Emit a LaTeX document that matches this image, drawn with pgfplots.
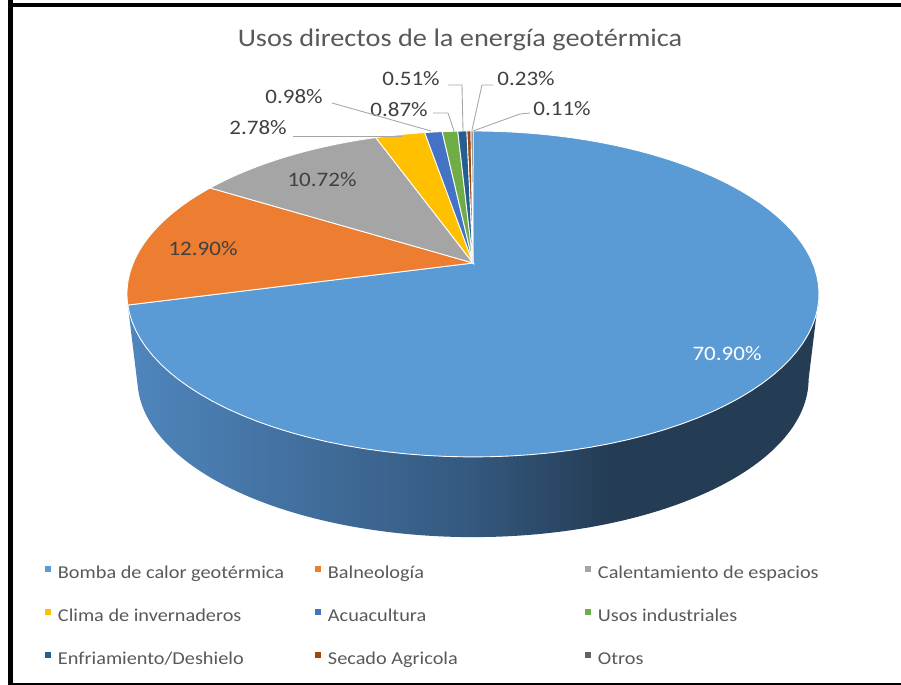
\documentclass[border=0pt]{standalone}
\usepackage{pgfplots}
\usepackage{pgfplotstable}
\pgfplotsset{compat=1.18}
\usepackage{fontspec}
\setmainfont{Carlito}[FakeStretch=1.12]

% slice colours (Office palette)
\definecolor{pie0}{HTML}{5B9BD5}
\definecolor{pie1}{HTML}{ED7D31}
\definecolor{pie2}{HTML}{A5A5A5}
\definecolor{pie3}{HTML}{FFC000}
\definecolor{pie4}{HTML}{4472C4}
\definecolor{pie5}{HTML}{70AD47}
\definecolor{pie6}{HTML}{255E91}
\definecolor{pie7}{HTML}{9E480E}
\definecolor{pie8}{HTML}{636363}
\definecolor{sL}{HTML}{4F86BD}
\definecolor{sM}{HTML}{34587E}
\definecolor{sR}{HTML}{243C54}
\definecolor{titlecol}{HTML}{595959}
\definecolor{lblcol}{HTML}{404040}
\definecolor{leadcol}{HTML}{A6A6A6}
\pgfdeclarehorizontalshading{sideshade}{100bp}{color(0bp)=(sL); color(25bp)=(sL); color(50bp)=(sM); color(60bp)=(sR); color(100bp)=(sR)}

\pgfplotstableread[col sep=comma]{
name,pct
Bomba de calor geotérmica,70.90
Balneología,12.90
Calentamiento de espacios,10.72
Clima de invernaderos,2.78
Acuacultura,0.98
Usos industriales,0.87
Enfriamiento/Deshielo,0.51
Secado Agricola,0.23
Otros,0.11
}\pietable

\begin{document}%
% cumulative angles, clockwise from 12 o'clock
\pgfplotstablegetrowsof{\pietable}%
\pgfmathtruncatemacro\lastrow{\pgfplotsretval-1}%
\xdef\runang{90}%
\foreach \i in {0,...,\lastrow}{%
  \pgfplotstablegetelem{\i}{pct}\of\pietable
  \pgfmathsetmacro\newang{\runang-3.6*\pgfplotsretval}%
  \expandafter\xdef\csname pieS\i\endcsname{\runang}%
  \expandafter\xdef\csname pieE\i\endcsname{\newang}%
  \pgfplotstablegetelem{\i}{name}\of\pietable
  \expandafter\xdef\csname pieN\i\endcsname{\pgfplotsretval}%
  \xdef\runang{\newang}%
}%
\begin{tikzpicture}[declare function={
  rimx(\t)=473+339.7*cos(\t)/(1+0.19*sin(\t));
  rimy(\t)=422+157.1*sin(\t)/(1+0.19*sin(\t));
  rimbx(\t)=473+0.97*339.7*cos(\t)/(1+0.19*sin(\t));
  rimby(\t)=336+0.97*157.1*sin(\t)/(1+0.19*sin(\t));
}]
\begin{axis}[
  width=18.02cm, height=13.7cm, scale only axis,
  xmin=0, xmax=901, ymin=0, ymax=685,
  hide axis,
  legend columns=3,
  legend cell align=left,
  legend image code/.code={\path[#1, draw=none] (0cm,0.05cm) rectangle (0.12cm,0.17cm);},
  legend style={at={(0.0499,0.1734)}, anchor=north west, draw=none, fill=none,
    inner sep=0pt, outer sep=0pt, row sep=0.51cm, column sep=0pt,
    font=\fontsize{10.3}{12}\selectfont, text=titlecol,
    nodes={inner sep=0pt, outer sep=0pt, text height=0.25cm, text depth=0.1cm},
    /tikz/every odd column/.append style={column sep=0.14cm}},
]
% picture area
\path (axis cs:0,0) rectangle (axis cs:901,685);
% side of the cylinder (front part of the big slice)
\shade[shading=sideshade]
  plot[variable=\t, domain=-165.24:-10.95, samples=120] (axis cs:{rimx(\t)},{rimy(\t)})
  -- plot[variable=\t, domain=-165.24:-10.95, samples=120] (axis cs:{rimbx(-176.19-\t)},{rimby(-176.19-\t)})
  -- cycle;
% top faces
\pgfplotsinvokeforeach{0,...,8}{
  \addplot[fill=pie#1, draw=white, line width=0.5pt,
    domain=\csname pieE#1\endcsname:\csname pieS#1\endcsname, samples=90, variable=\t]
    ({rimx(\t)},{rimy(\t)}) -- (axis cs:473,422) -- cycle;
  \addlegendentry{\makebox[5.14cm][l]{\csname pieN#1\endcsname}}
}
% title
\node[anchor=base, text=titlecol, font=\fontsize{14.4}{17}\selectfont] at (axis cs:460,638) {Usos directos de la energía geotérmica};
% data labels
\begin{scope}[every node/.style={font=\fontsize{11.7}{14}\selectfont, text=lblcol, inner sep=0pt}]
\node[anchor=base, text=white] at (axis cs:727,324) {70.90\%};
\node[anchor=base] at (axis cs:203,429) {12.90\%};
\node[anchor=base] at (axis cs:322,498) {10.72\%};
\node[anchor=base east] at (axis cs:287,550) {2.78\%};
\node[anchor=base east] at (axis cs:323,581) {0.98\%};
\node[anchor=base east] at (axis cs:428,568) {0.87\%};
\node[anchor=base east] at (axis cs:440,599) {0.51\%};
\node[anchor=base west] at (axis cs:497,599) {0.23\%};
\node[anchor=base west] at (axis cs:533,569) {0.11\%};
\end{scope}
% leader lines
\begin{scope}[leadcol, line width=0.5pt]
\draw (axis cs:293,549) -- (axis cs:402,549);
\draw (axis cs:332,582) -- (axis cs:431,554);
\draw (axis cs:433,572) -- (axis cs:448,572) -- (axis cs:454,554);
\draw (axis cs:448,600) -- (axis cs:462,600) -- (axis cs:463,554);
\draw (axis cs:493,600) -- (axis cs:482,600) -- (axis cs:472,555);
\draw (axis cs:530,572) -- (axis cs:520,571) -- (axis cs:473,554);
\end{scope}
% frame (kept out of the bounding box)
\draw[overlay, black, line width=2.3pt] (axis cs:10.5,685) -- (axis cs:10.5,0);
\draw[overlay, black, line width=2.3pt] (axis cs:8.5,680) -- (axis cs:901,680);
\draw[overlay, black, line width=1.2pt] (axis cs:8.5,1) -- (axis cs:901,1);
\end{axis}
\end{tikzpicture}%
\end{document}
